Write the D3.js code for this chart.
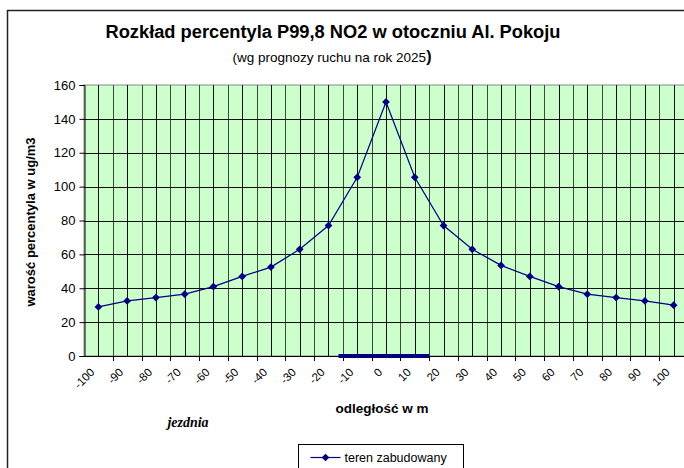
<!DOCTYPE html>
<html lang="pl">
<head>
<meta charset="UTF-8" />
<title>Rozkład percentyla P99,8 NO2</title>
<script src="https://cdn.jsdelivr.net/npm/d3@7"></script>
<style>
  body { margin: 0; background: #fff; }
  svg { font-family: Arial, "Liberation Sans", sans-serif; }
  .grid-major { stroke: #111; stroke-width: 1px; }
  .grid-minor { stroke: #3c4a3c; stroke-width: 1px; }
  .data-line { fill: none; stroke: #000080; stroke-width: 1.2px; }
  .point { fill: #000080; }
  .axis-line { stroke: #000; stroke-width: 1px; }
  .road { stroke: #000080; stroke-width: 4px; }
</style>
</head>
<body>
<script>
  // odległość od osi jezdni [m] i wartości percentyla
  var distances = [-100, -90, -80, -70, -60, -50, -40, -30, -20, -10, 0, 10, 20, 30, 40, 50, 60, 70, 80, 90, 100];
  var values = [29, 32.5, 34.5, 36.5, 41, 47, 52.5, 63, 77, 105.5, 150, 105.5, 77, 63, 53.5, 47, 41, 36.5, 34.5, 32.5, 30];
  var yTicks = [0, 20, 40, 60, 80, 100, 120, 140, 160];
  var roadway = [-16.5, 15]; // zasięg jezdni [m]

  var w = 684, h = 468;
  var margin = { top: 85, right: -4, bottom: 112, left: 84 };

  var svg = d3.select("body").append("svg")
    .attr("width", w)
    .attr("height", h);

  // chart border (runs off the right and bottom edge)
  svg.append("rect")
    .attr("x", 7.5).attr("y", 10.5)
    .attr("width", 700).attr("height", 500)
    .attr("fill", "#fff").attr("stroke", "#222").attr("stroke-width", 1.5);

  var xScale = d3.scaleBand()
    .domain(distances)
    .range([margin.left, w - margin.right])
    .padding(0);

  var yScale = d3.scaleLinear()
    .domain([0, 160])
    .range([h - margin.bottom, margin.top]);

  var bw = xScale.bandwidth();
  var center = function(d) { return xScale(d) + bw / 2; };
  // linear map of metres to pixels, for the roadway bar
  var metres = d3.scaleLinear()
    .domain([distances[0], distances[distances.length - 1]])
    .range([center(distances[0]), center(distances[distances.length - 1])]);

  // plot background
  svg.append("rect")
    .attr("x", margin.left).attr("y", margin.top)
    .attr("width", w - margin.right - margin.left)
    .attr("height", yScale(0) - yScale(160))
    .attr("fill", "#ccffcc")
    .attr("stroke", "#888");

  // vertical grid: band edges and band centres
  var edges = distances.map(function(d) { return xScale(d); }).slice(1);
  svg.append("g").selectAll("line.e")
    .data(edges).enter().append("line")
    .attr("class", "grid-minor")
    .attr("x1", function(d) { return Math.round(d) + 0.5; })
    .attr("x2", function(d) { return Math.round(d) + 0.5; })
    .attr("y1", yScale(160)).attr("y2", yScale(0));

  svg.append("g").selectAll("line.c")
    .data(distances).enter().append("line")
    .attr("class", "grid-major")
    .attr("x1", function(d) { return Math.round(center(d)) + 0.5; })
    .attr("x2", function(d) { return Math.round(center(d)) + 0.5; })
    .attr("y1", yScale(160)).attr("y2", yScale(0));

  // horizontal grid
  svg.append("g").selectAll("line")
    .data(yTicks.slice(1, -1)).enter().append("line")
    .attr("class", "grid-major")
    .attr("x1", margin.left).attr("x2", w)
    .attr("y1", function(d) { return Math.round(yScale(d)) + 0.5; })
    .attr("y2", function(d) { return Math.round(yScale(d)) + 0.5; });

  // y axis
  var yAxis = d3.axisLeft(yScale)
    .tickValues(yTicks)
    .tickSize(5)
    .tickPadding(4);
  var gy = svg.append("g")
    .attr("transform", "translate(" + (margin.left + 0.5) + ",0)")
    .call(yAxis);
  gy.select(".domain").attr("stroke", "#000");
  gy.selectAll("text").attr("font-size", 13).attr("fill", "#000")
    .attr("font-family", "Arial, 'Liberation Sans', sans-serif");

  // x axis: ticks on band edges, labels on centres
  svg.append("line")
    .attr("class", "axis-line")
    .attr("x1", margin.left).attr("x2", w)
    .attr("y1", Math.round(yScale(0)) + 0.5).attr("y2", Math.round(yScale(0)) + 0.5);

  svg.append("g").selectAll("line")
    .data(edges).enter().append("line")
    .attr("stroke", "#000")
    .attr("x1", function(d) { return Math.round(d) + 0.5; })
    .attr("x2", function(d) { return Math.round(d) + 0.5; })
    .attr("y1", yScale(0)).attr("y2", yScale(0) + 5);

  svg.append("g").selectAll("text")
    .data(distances).enter().append("text")
    .attr("transform", function(d) {
      return "translate(" + (center(d) - 3) + "," + (yScale(0) + 17) + ") rotate(-45)";
    })
    .attr("text-anchor", "end")
    .attr("font-size", 11.5)
    .text(function(d) { return d; });

  // roadway bar
  svg.append("line")
    .attr("class", "road")
    .attr("x1", metres(roadway[0])).attr("x2", metres(roadway[1]))
    .attr("y1", yScale(0)).attr("y2", yScale(0));

  // data
  var line = d3.line()
    .x(function(d, i) { return center(distances[i]); })
    .y(function(d) { return yScale(d); });

  svg.append("path")
    .datum(values)
    .attr("class", "data-line")
    .attr("d", line);

  var marker = d3.symbol().type(d3.symbolSquare).size(30);
  svg.append("g").selectAll("path")
    .data(values).enter().append("path")
    .attr("class", "point")
    .attr("transform", function(d, i) {
      return "translate(" + center(distances[i]) + "," + yScale(d) + ") rotate(45)";
    })
    .attr("d", marker);

  // titles
  svg.append("text")
    .attr("x", 333).attr("y", 38)
    .attr("text-anchor", "middle")
    .attr("font-size", 18).attr("font-weight", "bold")
    .attr("textLength", 455).attr("lengthAdjust", "spacingAndGlyphs")
    .text("Rozkład percentyla P99,8 NO2 w otoczniu Al. Pokoju");

  var sub = svg.append("text")
    .attr("x", 332).attr("y", 62)
    .attr("text-anchor", "middle")
    .attr("font-size", 13.5);
  sub.append("tspan").text("(wg prognozy ruchu na rok 2025");
  sub.append("tspan").attr("font-size", 16).attr("font-weight", "bold").text(")");

  svg.append("text")
    .attr("transform", "translate(35,222) rotate(-90)")
    .attr("text-anchor", "middle")
    .attr("font-size", 13).attr("font-weight", "bold")
    .text("warość percentyla w ug/m3");

  svg.append("text")
    .attr("x", 382).attr("y", 413)
    .attr("text-anchor", "middle")
    .attr("font-size", 13.5).attr("font-weight", "bold")
    .text("odległość w m");

  svg.append("text")
    .attr("x", 188).attr("y", 427)
    .attr("text-anchor", "middle")
    .attr("font-family", "'Liberation Serif', 'Times New Roman', serif")
    .attr("font-size", 14).attr("font-weight", "bold").attr("font-style", "italic")
    .text("jezdnia");

  // legend
  var lg = svg.append("g").attr("transform", "translate(298.5,444.5)");
  lg.append("rect")
    .attr("width", 165).attr("height", 40)
    .attr("fill", "#fff").attr("stroke", "#000");
  lg.append("line")
    .attr("x1", 12).attr("x2", 42).attr("y1", 13).attr("y2", 13)
    .attr("stroke", "#000080").attr("stroke-width", 1.2);
  lg.append("path")
    .attr("class", "point")
    .attr("transform", "translate(27,13) rotate(45)")
    .attr("d", marker);
  lg.append("text")
    .attr("x", 46).attr("y", 17)
    .attr("font-size", 12.5)
    .text("teren zabudowany");
</script>
</body>
</html>
